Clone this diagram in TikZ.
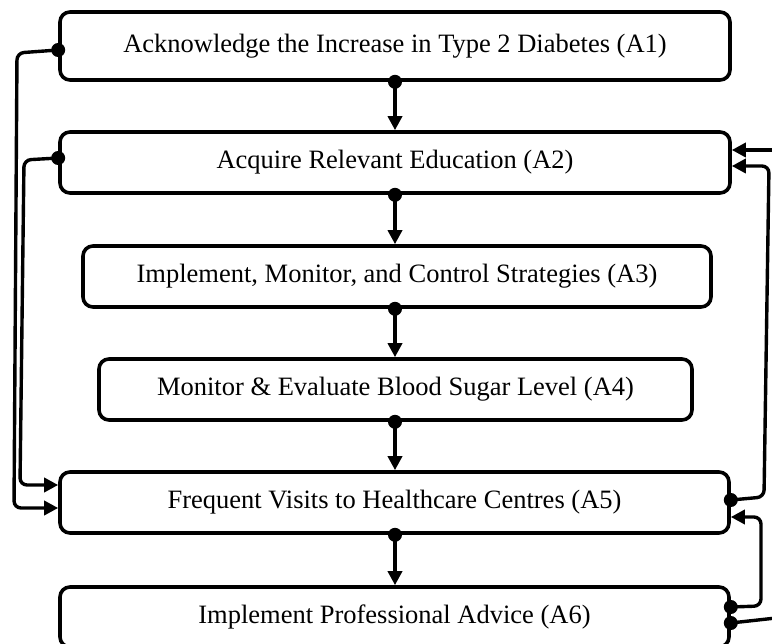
\documentclass[tikz,border=0pt]{standalone}
\usepackage{fontspec}
\setmainfont{Liberation Serif}
\usetikzlibrary{arrows.meta}
\begin{document}
\begin{tikzpicture}[x=1pt,y=-1pt,
  box/.style={draw,line width=3.6pt,rounded corners=10pt,inner sep=0pt,
    font=\fontsize{26.5}{30}\selectfont},
  link/.style={line width=3.4pt,rounded corners=7pt},
  arr/.style={link,-{Triangle[length=14pt,width=14pt]}}
]
\useasboundingbox (0,0) rectangle (772,644);
\node[box,minimum width=670pt,minimum height=68pt] (a1) at (395,46) {Acknowledge the Increase in Type 2 Diabetes (A1)};
\node[box,minimum width=670pt,minimum height=61pt] (a2) at (395,162.5) {Acquire Relevant Education (A2)};
\node[box,minimum width=628pt,minimum height=61pt] (a3) at (397,276.5) {Implement, Monitor, and Control Strategies (A3)};
\node[box,minimum width=593pt,minimum height=61pt] (a4) at (395.5,389.5) {Monitor \& Evaluate Blood Sugar Level (A4)};
\node[box,minimum width=669pt,minimum height=61pt] (a5) at (394.5,502.5) {Frequent Visits to Healthcare Centres (A5)};
\node[box,minimum width=669pt,minimum height=60pt] (a6) at (394.5,617) {Implement Professional Advice (A6)};

% vertical flow
\draw[arr] (a1.south) -- (a1.south |- a2.north);
\draw[arr] (a2.south) -- (a2.south |- a3.north);
\draw[arr] (a3.south -| a2.south) -- (a2.south |- a4.north);
\draw[arr] (a4.south -| a2.south) -- (a2.south |- a5.north);
\draw[arr] (a5.south -| a2.south) -- (a2.south |- a6.north);
\foreach \n in {a1,a2,a3,a4,a5}
  \fill (\n.south -| a2.south) circle (7pt);

% left feedback lines
\draw[arr] ([yshift=-4pt]a1.west) -- (17,53) -- (14,508) -- ([yshift=-5.5pt]a5.west);
\draw[arr] ([yshift=4.5pt]a2.west) -- (24,160) -- (20,485) -- ([yshift=17.5pt]a5.west);
\fill ([yshift=-4pt]a1.west) circle (7pt);
\fill ([yshift=4.5pt]a2.west) circle (7pt);

% right feedback lines
\coordinate (in2) at (776,150);
\coordinate (out6) at (776,618);
\draw[arr] ([yshift=2.5pt]a5.east) -- (764,497) -- (769,166) -- ([yshift=-3.5pt]a2.east);
\draw[arr] (in2) -- ([yshift=12.5pt]a2.east);
\draw[arr] ([yshift=10pt]a6.east) -- (761,606) -- (761,517) -- ([yshift=-14.5pt]a5.east);
\draw[link] ([yshift=-6pt]a6.east) -- (out6);
\fill ([yshift=2.5pt]a5.east) circle (7pt);
\fill ([yshift=10pt]a6.east) circle (7pt);
\fill ([yshift=-6pt]a6.east) circle (7pt);
\end{tikzpicture}
\end{document}
